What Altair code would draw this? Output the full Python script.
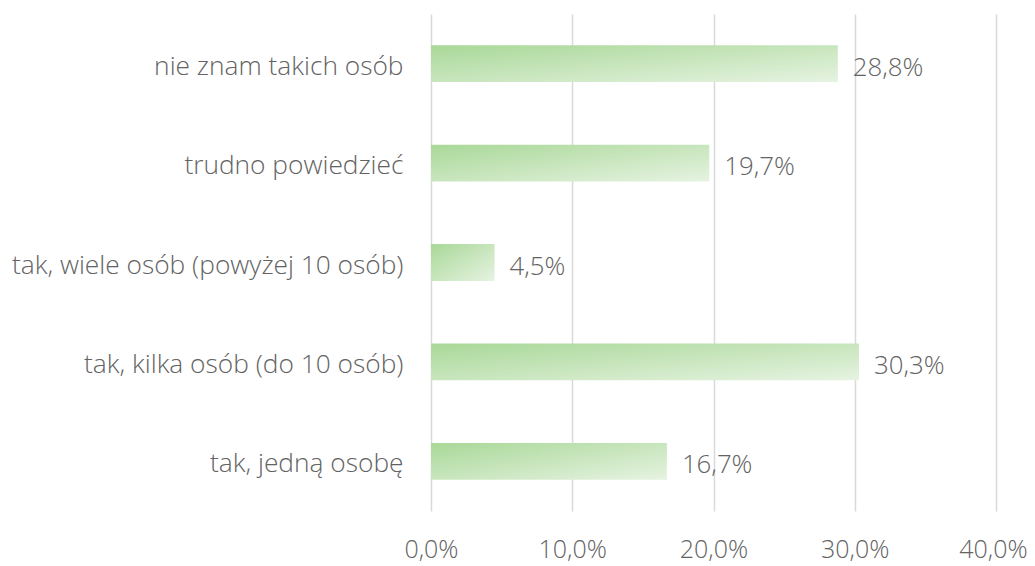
import altair as alt
import pandas as pd

categories = [
    "nie znam takich osób",
    "trudno powiedzieć",
    "tak, wiele osób (powyżej 10 osób)",
    "tak, kilka osób (do 10 osób)",
    "tak, jedną osobę",
]
values = [28.8, 19.7, 4.5, 30.3, 16.7]
x_ticks = [0, 10, 20, 30, 40]

df = pd.DataFrame({"cat": categories, "val": values})
df["label"] = [f"{v:.1f}".replace(".", ",") + "%" for v in values]

FONT = "Open Sans"
GREY = "#636363"
FS = 25.8

base = alt.Chart(df).encode(
    y=alt.Y(
        "cat:N",
        sort=categories,
        title=None,
        scale=alt.Scale(paddingInner=0.63, paddingOuter=0.315),
        axis=alt.Axis(
            domain=False, ticks=False, grid=False,
            labelFont=FONT, labelFontSize=26.3, labelColor=GREY,
            labelFontWeight=300, labelPadding=28, labelLimit=600,
            labelOffset=3,
        ),
    ),
    x=alt.X(
        "val:Q",
        title=None,
        scale=alt.Scale(domain=[0, 40], nice=False),
        axis=alt.Axis(
            values=x_ticks, domain=False, ticks=False,
            gridColor="#d9d9d9", gridWidth=1.5,
            labelFont=FONT, labelFontSize=25, labelColor=GREY,
            labelFontWeight=300, labelPadding=26, labelFlush=False,
            labelOffset={"condition": {"test": "datum.value == 40", "value": -3}, "value": 0},
            labelExpr="replace(format(datum.value, '.1f'), '.', ',') + '%'",
        ),
    ),
)

bars = base.mark_bar(
    color=alt.Gradient(
        gradient="linear",
        stops=[
            alt.GradientStop(color="#a9d898", offset=0),
            alt.GradientStop(color="#e6f3e1", offset=1),
        ],
        x1=0, y1=0, x2=1, y2=1,
    )
)

text = base.mark_text(
    align="left", baseline="middle", dx=15, dy=4,
    font=FONT, fontSize=FS, color=GREY, fontWeight=300,
).encode(text="label:N")

chart = (
    alt.layer(bars, text)
    .properties(
        width=565, height=497,
        autosize=alt.AutoSizeParams(type="none"),
        padding={"left": 423, "top": 6, "right": 31, "bottom": 52},
    )
    .configure(background="white")
    .configure_view(stroke="transparent", strokeWidth=0)
)

chart.save("out.html", embed_options={"renderer": "svg", "actions": False})
